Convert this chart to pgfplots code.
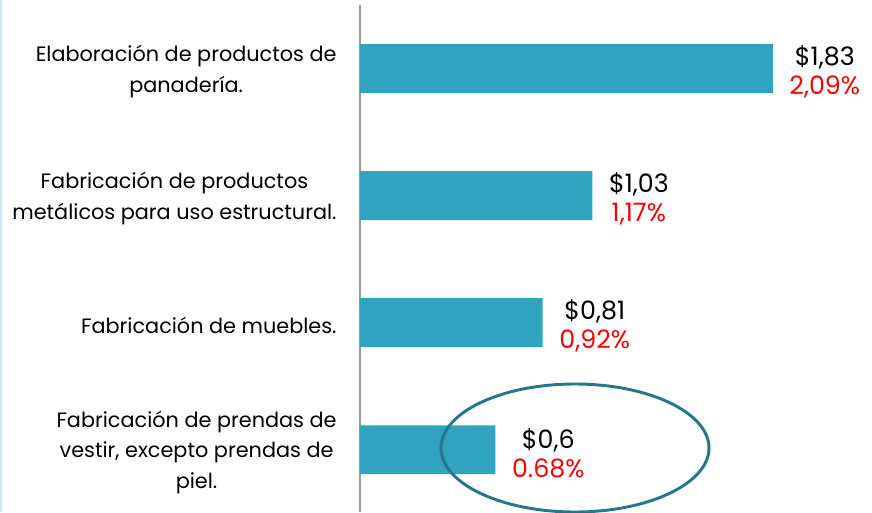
\documentclass[border=0pt]{standalone}
\usepackage{pgfplots}
\pgfplotsset{compat=1.18}
\usepackage{fontspec}
\setmainfont{Poppins}
\definecolor{barblue}{HTML}{2FA3BF}
\definecolor{ringteal}{HTML}{22798B}
\definecolor{edgeblue}{HTML}{CDE8F0}
\begin{document}
\begin{tikzpicture}[x=0.75pt,y=0.75pt]
\begin{axis}[
  anchor=south west,
  scale only axis,
  width=384pt, height=380.25pt,
  xbar,
  xmin=0, xmax=2.27,
  ymin=-0.5, ymax=3.49,
  y dir=reverse,
  bar width=0.385,
  axis x line=none,
  axis y line*=left,
  y axis line style={draw=gray!80, line width=1.5pt, -},
  ytick={0,1,2,3},
  yticklabels={
    {Elaboración de productos de\\panadería.},
    {Fabricación de productos\\metálicos para uso estructural.},
    {Fabricación de muebles.},
    {Fabricación de prendas de\\vestir, excepto prendas de\\piel.}},
  major tick length=0pt,
  yticklabel style={align=center, font=\fontsize{15.6}{23}\selectfont,
    xshift=-14pt, yshift=-2pt},
  point meta=explicit symbolic,
  nodes near coords,
  nodes near coords style={anchor=west, align=center, xshift=9pt, yshift=-2.5pt,
    font=\fontsize{19}{22}\selectfont, text=black},
  clip=false,
]
\addplot[fill=barblue, draw=none] coordinates {
  (1.83,0) [{\$1,83\\\textcolor{red}{2,09\%}}]
  (1.03,1) [{\$1,03\\\textcolor{red}{1,17\%}}]
  (0.81,2) [{\$0,81\\\textcolor{red}{0,92\%}}]
  (0.60,3) [{\$0,6\\\textcolor{red}{0.68\%}}]
};
\end{axis}
\draw[ringteal, line width=2.2pt] (215,64) ellipse [x radius=134, y radius=64];
\draw[edgeblue, line width=1.5pt] (-359.2,0) -- (-359.2,512);
\pgfresetboundingbox
\useasboundingbox (-360,0) rectangle (512,512);
\end{tikzpicture}
\end{document}
